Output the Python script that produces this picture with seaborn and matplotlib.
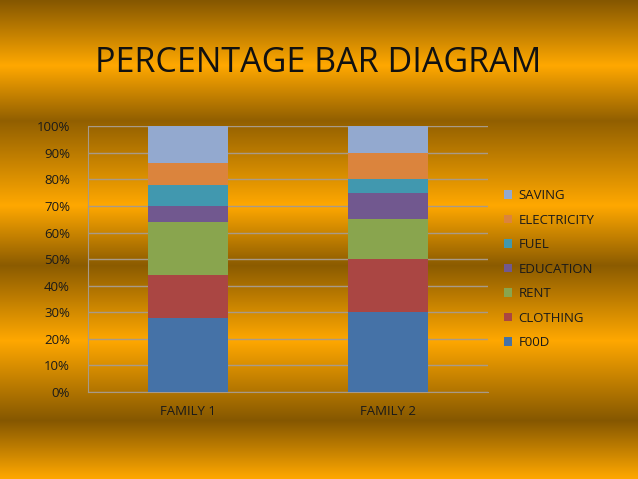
import matplotlib
matplotlib.use("Agg")
import matplotlib.pyplot as plt
import numpy as np
import pandas as pd
import seaborn as sns

families = ["FAMILY 1", "FAMILY 2"]
items = ["F00D", "CLOTHING", "RENT", "EDUCATION", "FUEL", "ELECTRICITY", "SAVING"]
family1 = [28, 16, 20, 6, 8, 8, 14]
family2 = [30, 20, 15, 10, 5, 10, 10]
colors = ["#4572A7", "#AA4643", "#89A54E", "#71588F", "#4198AF", "#DB843D", "#93A9CF"]

sns.set_style("white")
plt.rcParams["font.family"] = ["Open Sans", "DejaVu Sans"]

rows = []
for fam, vals in zip(families, [family1, family2]):
    tot = sum(vals)
    cum = np.cumsum(vals) / tot * 100
    for it, c in zip(items, cum):
        rows.append({"family": fam, "item": it, "top": c})
df = pd.DataFrame(rows)

fig = plt.figure(figsize=(6.38, 4.79), dpi=100)

# slide background: horizontal dark/gold bands
bg = fig.add_axes([0, 0, 1, 1], zorder=0)
ys = np.arange(479)
keys_y = [0, 65, 120, 205, 265, 340, 420, 475, 479]
keys_t = [0.0, 1.0, 0.1, 1.0, 0.05, 1.0, 0.0, 0.95, 1.0]
t = np.interp(ys, keys_y, keys_t)
dark = np.array([0x85, 0x57, 0x00]) / 255
light = np.array([0xFF, 0xA8, 0x00]) / 255
img = dark[None, :] + t[:, None] * (light - dark)[None, :]
img = np.repeat(img[:, None, :], 10, axis=1)
bg.imshow(img, aspect="auto", extent=[0, 1, 0, 1])
bg.axis("off")

ax = fig.add_axes([0.138, 0.1816, 0.627, 0.555], zorder=1)
ax.patch.set_alpha(0)

# draw from the tallest cumulative segment down so each covers the one above
for it, col in reversed(list(zip(items, colors))):
    sub = df[df["item"] == it]
    sns.barplot(data=sub, x="family", y="top", color=col, width=0.4,
                saturation=1, ax=ax, label=it, order=families, zorder=3,
                edgecolor="none", linewidth=0)

ax.set_xlim(-0.5, 1.5)
ax.set_ylim(0, 100)
ax.set_yticks(range(0, 101, 10))
ax.set_yticklabels([f"{v}%" for v in range(0, 101, 10)])
ax.set_xlabel("")
ax.set_ylabel("")
ax.yaxis.grid(True, color="#A89A88", linewidth=1, zorder=1)
ax.set_axisbelow(True)
for s in ["top", "right"]:
    ax.spines[s].set_visible(False)
for s in ["left", "bottom"]:
    ax.spines[s].set_color("#A89A88")
ax.set_xticks([-0.5, 0.5, 1.5], minor=False)
ax.set_xticklabels([])
ax.set_xticks([0, 1], minor=True)
ax.set_xticklabels(families, minor=True)
ax.tick_params(axis="x", which="major", length=5, color="#A89A88", direction="out")
ax.tick_params(axis="x", which="minor", length=0, pad=9, labelsize=9.5, labelcolor="#1a1a1a")
ax.tick_params(axis="y", length=5, color="#A89A88", labelsize=9.5, labelcolor="#1a1a1a", pad=8)

handles, labels = ax.get_legend_handles_labels()
ax.legend(handles, labels, loc="center left", bbox_to_anchor=(1.01, 0.462),
          frameon=False, fontsize=9.5, handlelength=0.6, handleheight=0.6,
          handletextpad=0.5, labelspacing=0.87, labelcolor="#1a1a1a")

fig.text(0.498, 0.868, "PERCENTAGE BAR DIAGRAM", ha="center", va="center",
         fontsize=24.5, color="#111111")

fig.savefig("out.png", dpi=100)
